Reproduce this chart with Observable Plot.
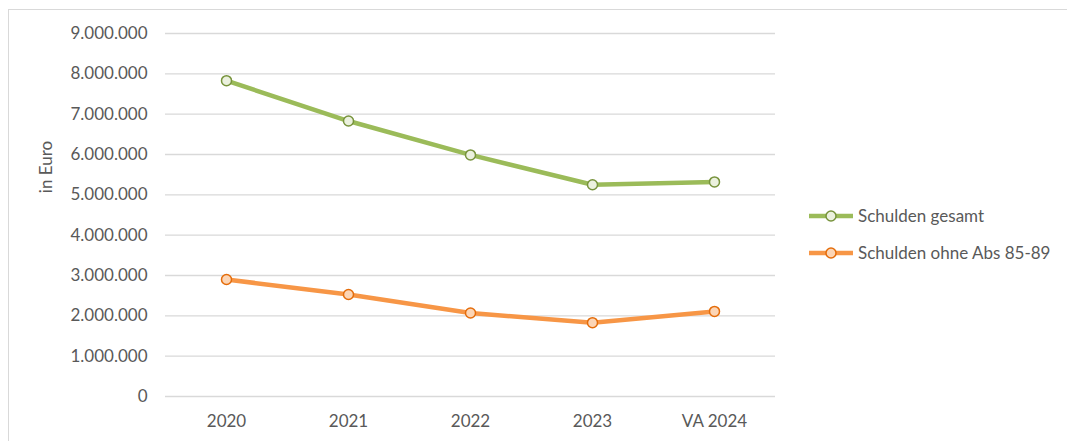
<!DOCTYPE html>
<html>
<head>
<meta charset="utf-8">
<script src="https://cdn.jsdelivr.net/npm/d3@7"></script>
<script src="https://cdn.jsdelivr.net/npm/@observablehq/plot@0.6"></script>
<style>
  html, body { margin: 0; padding: 0; background: #fff; }
  #wrap { position: relative; width: 1067px; height: 441px; overflow: hidden; font-family: Lato, "Open Sans", sans-serif; }
  #frame { position: absolute; left: 8px; top: 9px; width: 1070px; height: 450px; border-left: 1px solid #d9d9d9; border-top: 1px solid #d9d9d9; box-sizing: border-box; }
  #legend { position: absolute; left: 808px; top: 197px; font-size: 17px; color: #595959; }
  .item { display: flex; align-items: center; height: 37px; }
  .item svg { margin-right: 4px; }
  #ylab { position: absolute; left: 45px; top: 167px; transform: translate(-50%, -50%) rotate(-90deg); font-size: 17px; color: #595959; white-space: nowrap; }
</style>
</head>
<body>
<div id="wrap">
  <div id="frame"></div>
  <div id="chart"></div>
  <div id="ylab">in Euro</div>
  <div id="legend"></div>
</div>
<script>
const categories = ["2020", "2021", "2022", "2023", "VA 2024"];
const schuldenGesamt = [7830000, 6830000, 5990000, 5250000, 5320000];
const schuldenOhneAbs = [2900000, 2530000, 2070000, 1830000, 2110000];
const seriesNames = ["Schulden gesamt", "Schulden ohne Abs 85-89"];
const yTicks = [0, 1000000, 2000000, 3000000, 4000000, 5000000, 6000000, 7000000, 8000000, 9000000];

const lineColors = ["#9bbb59", "#f79646"];
const markerFill = ["#ebf1de", "#fcd5b5"];
const markerStroke = ["#77933c", "#e46c0a"];

const data = [];
categories.forEach((c, i) => {
  data.push({cat: c, value: schuldenGesamt[i], series: seriesNames[0]});
  data.push({cat: c, value: schuldenOhneAbs[i], series: seriesNames[1]});
});

const fmt = d => d.toLocaleString("de-DE");

const chart = Plot.plot({
  width: 1067,
  height: 441,
  marginLeft: 165,
  marginRight: 292,
  marginTop: 33,
  marginBottom: 45,
  style: {fontFamily: "Lato, 'Open Sans', sans-serif", fontSize: "17px", color: "#595959", background: "transparent"},
  x: {type: "point", domain: categories, padding: 0.5, label: null},
  y: {domain: [0, 9000000], label: null},
  color: {domain: seriesNames, range: lineColors},
  marks: [
    Plot.gridY(yTicks, {stroke: "#d9d9d9", strokeOpacity: 1, strokeWidth: 1.3}),
    Plot.axisY({ticks: yTicks, tickFormat: fmt, tickSize: 0, tickPadding: 18, label: null, fill: "#595959"}),
    Plot.axisX({tickSize: 0, tickPadding: 18, label: null, fill: "#595959"}),
    Plot.line(data, {x: "cat", y: "value", z: "series", stroke: "series", strokeWidth: 4.5, curve: "linear"}),
    Plot.dot(data, {x: "cat", y: "value", r: 5,
      fill: d => markerFill[seriesNames.indexOf(d.series)],
      stroke: d => markerStroke[seriesNames.indexOf(d.series)],
      strokeWidth: 1.5})
  ]
});
document.getElementById("chart").appendChild(chart);

const legend = document.getElementById("legend");
seriesNames.forEach((name, i) => {
  const item = document.createElement("div");
  item.className = "item";
  item.innerHTML = `<svg width="46" height="14"><line x1="1" y1="7" x2="45" y2="7" stroke="${lineColors[i]}" stroke-width="4.5"/><circle cx="23" cy="7" r="5" fill="${markerFill[i]}" stroke="${markerStroke[i]}" stroke-width="1.5"/></svg><span>${name}</span>`;
  legend.appendChild(item);
});
</script>
</body>
</html>
